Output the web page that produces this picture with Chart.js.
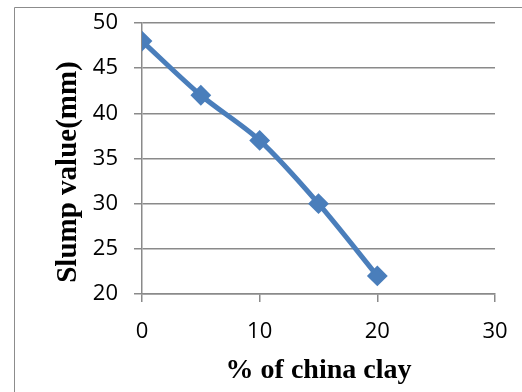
<!DOCTYPE html>
<html>
<head>
<meta charset="utf-8">
<script src="https://cdn.jsdelivr.net/npm/chart.js@4"></script>
<style>
  html, body { margin: 0; padding: 0; background: #fff; }
  #wrap { width: 522px; height: 392px; }
</style>
</head>
<body>
<div id="wrap"><canvas id="c" width="522" height="392"></canvas></div>
<script>
// Slump of the mix against china clay content
const clayPercent = [0, 5, 10, 15, 20];
const slumpMm = [48, 42, 37, 30, 22];
const xTicks = [0, 10, 20, 30];
const yTicks = [20, 25, 30, 35, 40, 45, 50];
const xTitle = '% of china clay';
const yTitle = 'Slump value(mm)';

const gridGray = '#8a8a8a';
const lineBlue = '#4a7ebb';

// Frame around the whole figure plus the two bold axis titles
const framePlugin = {
  id: 'frame',
  beforeDraw(chart) {
    const ctx = chart.ctx;
    ctx.save();
    ctx.fillStyle = '#fff';
    ctx.fillRect(0, 0, chart.width, chart.height);
    ctx.strokeStyle = '#8c8c8c';
    ctx.lineWidth = 1;
    ctx.beginPath();
    ctx.moveTo(14.5, chart.height + 2);
    ctx.lineTo(14.5, 7.5);
    ctx.lineTo(chart.width + 2, 7.5);
    ctx.stroke();
    ctx.restore();
  },
  afterDraw(chart) {
    const ctx = chart.ctx;
    const area = chart.chartArea;
    ctx.save();
    ctx.fillStyle = '#000';
    ctx.textAlign = 'center';
    ctx.textBaseline = 'alphabetic';
    ctx.font = 'bold 28px "Liberation Serif", "DejaVu Serif", serif';
    ctx.fillText(xTitle, (area.left + area.right) / 2, 378);
    ctx.font = 'bold 29px "Liberation Serif", "DejaVu Serif", serif';
    ctx.translate(76, 172);
    ctx.rotate(-Math.PI / 2);
    ctx.fillText(yTitle, 0, 0);
    ctx.restore();
  }
};

new Chart(document.getElementById('c'), {
  type: 'line',
  data: {
    datasets: [{
      data: clayPercent.map((x, i) => ({ x: x, y: slumpMm[i] })),
      borderColor: lineBlue,
      backgroundColor: lineBlue,
      borderWidth: 5,
      tension: 0.3,
      pointStyle: 'rectRot',
      pointRadius: 9,
      pointBorderWidth: 2,
      pointBackgroundColor: lineBlue,
      pointBorderColor: lineBlue,
      fill: false
    }]
  },
  options: {
    responsive: false,
    animation: false,
    devicePixelRatio: 1,
    layout: { padding: { left: 0, right: 27, top: 23, bottom: 0 } },
    plugins: { legend: { display: false }, tooltip: { enabled: false } },
    scales: {
      x: {
        type: 'linear',
        min: xTicks[0],
        max: xTicks[xTicks.length - 1],
        afterBuildTicks(scale) { scale.ticks = xTicks.map(v => ({ value: v })); },
        afterFit(scale) {
          scale.height = 98;
          scale.paddingLeft = 0;
          scale.paddingRight = 0;
        },
        grid: {
          drawOnChartArea: false,
          drawTicks: true,
          tickLength: 8,
          color: gridGray,
          lineWidth: 1.5
        },
        border: { color: gridGray, width: 1.5 },
        ticks: {
          color: '#000',
          padding: 17,
          maxRotation: 0,
          font: { family: '"Open Sans", "Noto Sans", sans-serif', size: 22 }
        }
      },
      y: {
        type: 'linear',
        min: yTicks[0],
        max: yTicks[yTicks.length - 1],
        afterBuildTicks(scale) { scale.ticks = yTicks.map(v => ({ value: v })); },
        afterFit(scale) {
          scale.width = 142;
          scale.paddingTop = 0;
          scale.paddingBottom = 0;
        },
        grid: {
          drawOnChartArea: true,
          drawTicks: true,
          tickLength: 8,
          color: gridGray,
          lineWidth: 1.5
        },
        border: { color: gridGray, width: 1.5 },
        ticks: {
          color: '#000',
          padding: 16,
          font: { family: '"Open Sans", "Noto Sans", sans-serif', size: 22 }
        }
      }
    }
  },
  plugins: [framePlugin]
});
</script>
</body>
</html>
